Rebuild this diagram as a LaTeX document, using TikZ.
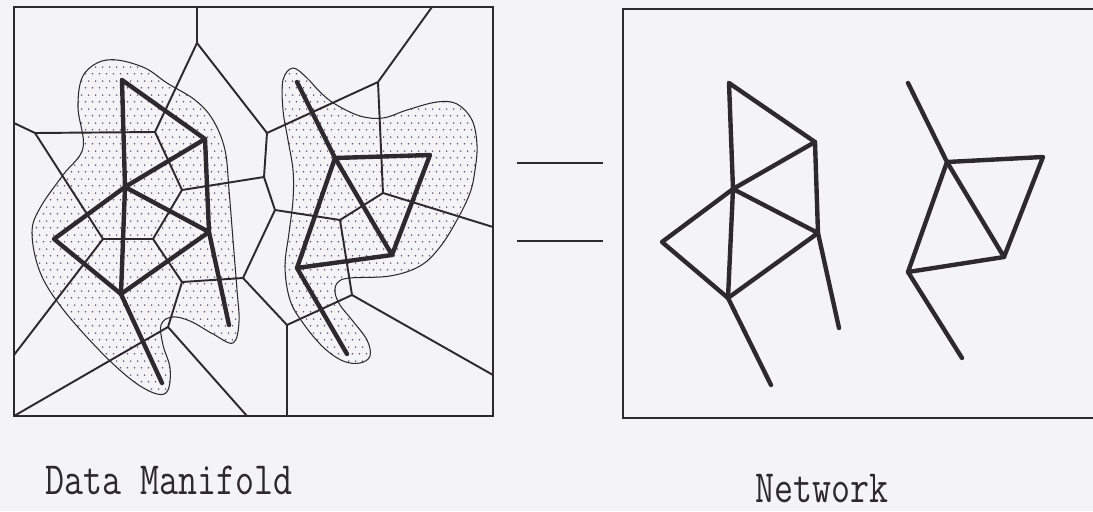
\documentclass[tikz,border=0pt]{standalone}
\usetikzlibrary{patterns.meta}
\definecolor{bg}{RGB}{244,244,246}
\definecolor{ink}{RGB}{45,42,45}
\definecolor{dotc}{RGB}{105,85,125}
\tikzdeclarepattern{
  name=stip,
  bottom left={(0pt,0pt)},
  top right={(4pt,8pt)},
  tile size={(4pt,8pt)},
  code={
    \pgfpathcircle{\pgfpoint{1pt}{2pt}}{0.55pt}
    \pgfpathcircle{\pgfpoint{3pt}{6pt}}{0.55pt}
    \pgfusepath{fill}
  }
}
\tikzset{
  frame/.style={draw=ink, line width=0.9pt},
  vedge/.style={draw=ink, line width=1.1pt, line join=round},
  gedge/.style={draw=ink, line width=2.5pt, line cap=round, line join=round},
  blobline/.style={draw=ink, line width=0.6pt, pattern=stip, pattern color=dotc},
  eqline/.style={draw=ink, line width=1.3pt},
  lbl/.style={font=\fontsize{21}{25}\selectfont\ttfamily, text=ink, inner sep=0pt, anchor=base west}
}
\begin{document}
\begin{tikzpicture}[x=0.02cm,y=-0.02cm]
\clip (0,0) rectangle (1093,511);
\fill[bg] (0,0) rectangle (1093,511);

% ---------- blobs ----------
\draw[blobline] plot[smooth cycle, tension=0.6] coordinates {
 (117,60) (145,68) (167,83) (195,100) (213,120) (225,150) (229,190) (233,240)
 (237,290) (239,322) (233,343) (213,334) (190,321) (172,317) (161,325) (163,345)
 (170,368) (168,390) (157,394) (133,381) (100,351) (62,308) (40,272) (32,233)
 (40,208) (63,175) (83,148) (78,108) (82,78) (97,63)};
\draw[blobline] plot[smooth cycle, tension=0.6] coordinates {
 (293,68) (307,78) (320,92) (335,104) (360,116) (383,118) (407,110) (437,102)
 (457,104) (472,120) (477,145) (475,170) (470,193) (457,220) (440,247) (420,266)
 (390,276) (350,278) (338,282) (335,292) (340,305) (352,320) (367,340) (370,356)
 (360,363) (343,361) (323,347) (303,323) (290,300) (285,267) (289,233) (293,200)
 (293,170) (288,140) (283,110) (283,80)};

% ---------- Voronoi vertices ----------
\coordinate (V1) at (197,43);
\coordinate (V2) at (155,132);
\coordinate (V3) at (35,133);
\coordinate (V4) at (182,190);
\coordinate (V5) at (264,177);
\coordinate (V6) at (103,239);
\coordinate (V7) at (153,239);
\coordinate (V8) at (182,282);
\coordinate (V9) at (243,278);
\coordinate (V10) at (168,327);
\coordinate (V11) at (275,210);
\coordinate (V12) at (287,325);
\coordinate (V13) at (352,295);
\coordinate (V14) at (340,220);
\coordinate (V15) at (267,133);
\coordinate (V16) at (378,82);
\coordinate (V17) at (383,193);
\coordinate (tb1) at (197,7);
\coordinate (tb2) at (432,7);
\coordinate (lb1) at (14,123);
\coordinate (lb2) at (14,355);
\coordinate (blc) at (14,416);
\coordinate (bb1) at (247,416);
\coordinate (bb2) at (287,416);
\coordinate (rb1) at (493,227);
\coordinate (rb2) at (493,375);

\draw[vedge] (tb1) -- (V1) -- (V2) -- (V3) -- (lb1);
\draw[vedge] (V1) -- (V15) -- (V16) -- (tb2);
\draw[vedge] (V2) -- (V4) -- (V5) -- (V15);
\draw[vedge] (V3) -- (V6) -- (lb2);
\draw[vedge] (V4) -- (V7) -- (V6);
\draw[vedge] (V5) -- (V11) -- (V9) -- (V8) -- (V7);
\draw[vedge] (V8) -- (V10) -- (blc);
\draw[vedge] (V10) -- (bb1);
\draw[vedge] (V9) -- (V12) -- (bb2);
\draw[vedge] (V12) -- (V13) -- (rb2);
\draw[vedge] (V13) -- (V14) -- (V11);
\draw[vedge] (V14) -- (V17) -- (V16);
\draw[vedge] (V17) -- (rb1);

% ---------- left graph (on the manifold) ----------
\coordinate (a1) at (122,80);
\coordinate (a2) at (205,139);
\coordinate (a3) at (125,187);
\coordinate (a4) at (209,232);
\coordinate (a5) at (121,294);
\coordinate (a6) at (54,239);
\coordinate (at1) at (162,383);
\coordinate (at2) at (229,325);
\draw[gedge] (a1) -- (a2) -- (a3) -- (a1);
\draw[gedge] (a3) -- (a5);
\draw[gedge] (a2) -- (a4) -- (a3) -- (a6) -- (a5) -- (a4);
\draw[gedge] (a5) -- (at1);
\draw[gedge] (a4) -- (at2);

\coordinate (b1) at (297,82);
\coordinate (b2) at (335,158);
\coordinate (b3) at (430,155);
\coordinate (b4) at (392,255);
\coordinate (b5) at (297,268);
\coordinate (bt) at (347,354);
\draw[gedge] (b1) -- (b2) -- (b3) -- (b4) -- (b2);
\draw[gedge] (b2) -- (b5) -- (b4);
\draw[gedge] (b5) -- (bt);

% ---------- frames ----------
\coordinate (L1) at (14,7);
\coordinate (L2) at (493,416);
\draw[frame] (L1) rectangle (L2);
\coordinate (R1) at (623,9);
\coordinate (R2) at (1110,418);
\draw[frame] (R1) rectangle (R2);

% ---------- equals sign ----------
\coordinate (e1a) at (517,163);
\coordinate (e1b) at (603,163);
\coordinate (e2a) at (517,241);
\coordinate (e2b) at (603,241);
\draw[eqline] (e1a) -- (e1b);
\draw[eqline] (e2a) -- (e2b);

% ---------- right network ----------
\coordinate (A) at (729,83);
\coordinate (B) at (815,142);
\coordinate (C) at (733,189);
\coordinate (D) at (662,242);
\coordinate (E) at (818,233);
\coordinate (F) at (728,298);
\coordinate (G) at (771,385);
\coordinate (H) at (839,328);
\draw[gedge] (A) -- (B) -- (C) -- (A);
\draw[gedge] (C) -- (F);
\draw[gedge] (B) -- (E) -- (C) -- (D) -- (F) -- (E);
\draw[gedge] (F) -- (G);
\draw[gedge] (E) -- (H);

\coordinate (P) at (908,83);
\coordinate (Q) at (947,162);
\coordinate (R) at (1043,157);
\coordinate (S) at (1004,257);
\coordinate (T) at (908,272);
\coordinate (U) at (962,358);
\draw[gedge] (P) -- (Q) -- (R) -- (S) -- (Q);
\draw[gedge] (Q) -- (T) -- (S);
\draw[gedge] (T) -- (U);

% ---------- labels ----------
\node[lbl] (dm) at (45,494) {\scalebox{1}[1.25]{Data Manifold}};
\node[lbl] (nw) at (755,502) {\scalebox{1}[1.25]{Network}};
\end{tikzpicture}
\end{document}
